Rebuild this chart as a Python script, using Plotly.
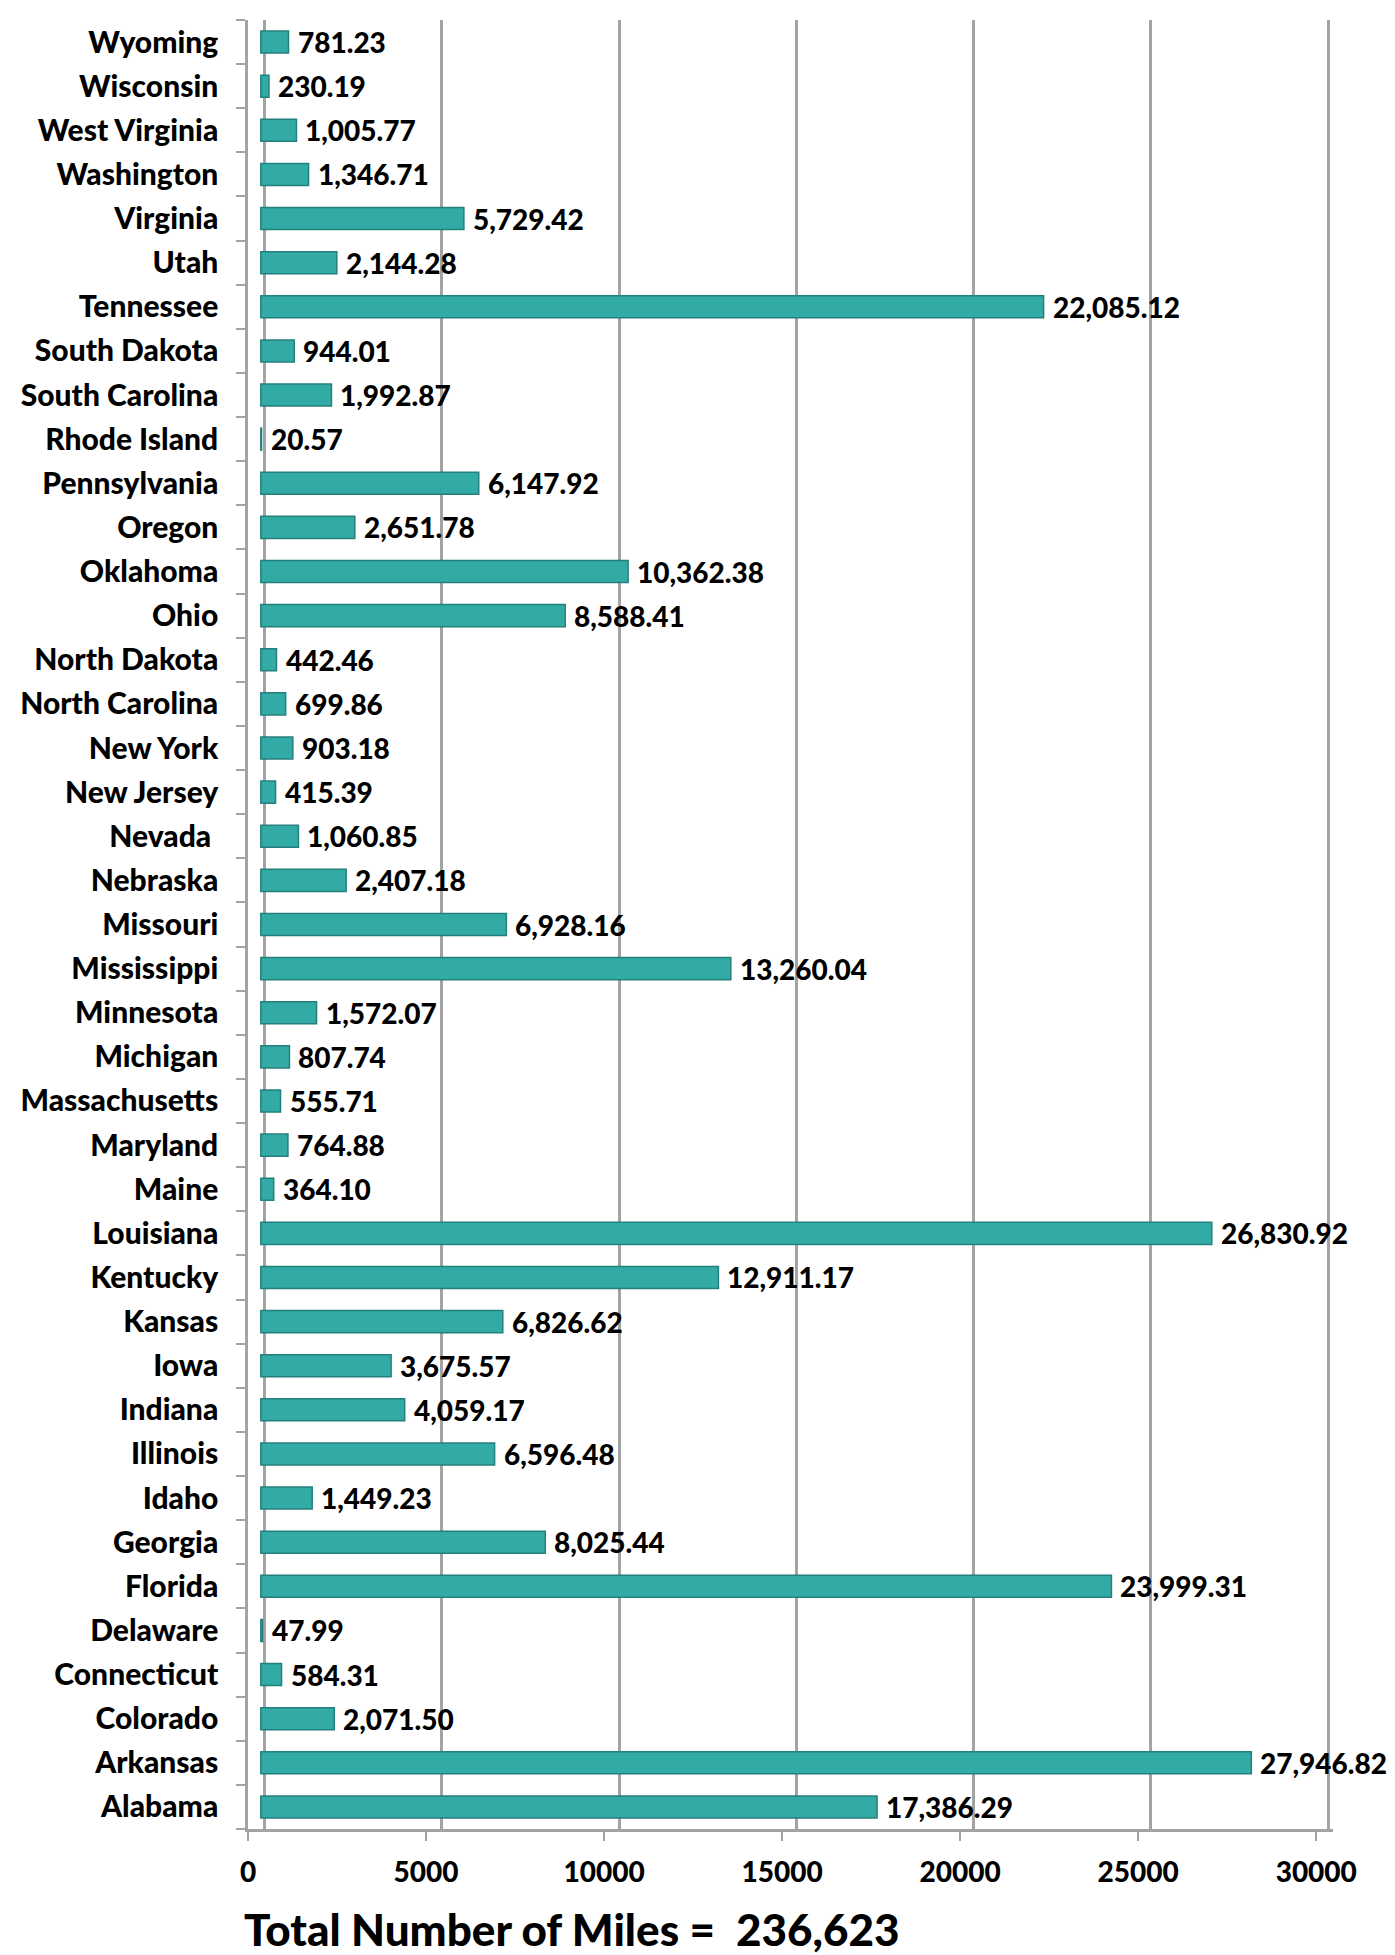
import plotly.graph_objects as go

states = ["Alabama", "Arkansas", "Colorado", "Connecticut", "Delaware", "Florida",
          "Georgia", "Idaho", "Illinois", "Indiana", "Iowa", "Kansas", "Kentucky",
          "Louisiana", "Maine", "Maryland", "Massachusetts", "Michigan", "Minnesota",
          "Mississippi", "Missouri", "Nebraska", "Nevada\u00a0", "New Jersey", "New York",
          "North Carolina", "North Dakota", "Ohio", "Oklahoma", "Oregon", "Pennsylvania",
          "Rhode Island", "South Carolina", "South Dakota", "Tennessee", "Utah",
          "Virginia", "Washington", "West Virginia", "Wisconsin", "Wyoming"]
miles = [17386.29, 27946.82, 2071.50, 584.31, 47.99, 23999.31,
         8025.44, 1449.23, 6596.48, 4059.17, 3675.57, 6826.62, 12911.17,
         26830.92, 364.10, 764.88, 555.71, 807.74, 1572.07,
         13260.04, 6928.16, 2407.18, 1060.85, 415.39, 903.18,
         699.86, 442.46, 8588.41, 10362.38, 2651.78, 6147.92,
         20.57, 1992.87, 944.01, 22085.12, 2144.28,
         5729.42, 1346.71, 1005.77, 230.19, 781.23]
x_ticks = [0, 5000, 10000, 15000, 20000, 25000, 30000]
total_miles = "236,623"

FONT = "Lato"
WEIGHT = 900
GRID = "#A3A3A3"
# page body has an 8px margin; size the figure to fit the window
OFF = 8
W, H = 1395 - OFF, 1955 - OFF
# plot area in page pixels
PX_L, PX_R, PX_T, PX_B = 233, 1333, 20, 1829
ML = PX_L - OFF
MT = PX_T - OFF
MR = W - (PX_R - OFF)
MB = H - (PX_B - OFF)
PW = PX_R - PX_L
VMAX = 30000


def axis_range(px0, px_max):
    """range so that value 0 lands at page px0 and VMAX at page px_max (3D depth planes)."""
    upp = VMAX / (px_max - px0)
    return [-(px0 - PX_L) * upp, VMAX + (PX_R - px_max) * upp]


fig = go.Figure()
fig.add_trace(go.Bar(
    x=miles, y=states, orientation="h", xaxis="x", yaxis="y",
    marker=dict(color="#32ABA6", line=dict(color="#24807C", width=1.5)),
    hoverinfo="x+y",
))

for s, v in zip(states, miles):
    fig.add_annotation(
        x=v, y=s, xref="x", yref="y",
        text=f"{v:,.2f}", showarrow=False,
        xanchor="left", yanchor="middle", xshift=7,
        font=dict(family=FONT, size=28, color="#000000", weight=WEIGHT),
    )

plot_h = PX_B - PX_T
title_cx = (234 + 888) / 2
title_cy = 1929
fig.add_annotation(
    x=(title_cx - PX_L) / PW, xref="paper",
    y=(PX_B - title_cy) / plot_h, yref="paper",
    text=f"Total Number of Miles =  {total_miles}", showarrow=False,
    font=dict(family=FONT, size=44, color="#000000", weight=WEIGHT),
    xanchor="center", yanchor="middle",
)

fig.update_layout(
    width=W, height=H,
    margin=dict(l=ML, r=MR, t=MT, b=MB, pad=0),
    paper_bgcolor="white", plot_bgcolor="white",
    showlegend=False,
    bargap=0.5,
    font=dict(family=FONT, color="#000000"),
    # bars: middle depth plane
    xaxis=dict(
        range=axis_range(246, 1324), visible=False, fixedrange=True,
    ),
    # back wall gridlines
    xaxis2=dict(
        overlaying="x", anchor="y", side="bottom",
        range=axis_range(250, 1328), tickvals=x_ticks,
        showgrid=True, gridcolor=GRID, gridwidth=2.5,
        showticklabels=False, ticks="", showline=False, zeroline=False,
        fixedrange=True,
    ),
    # front floor edge: ticks and labels
    xaxis3=dict(
        overlaying="x", anchor="y", side="bottom",
        range=axis_range(233, 1316), tickvals=x_ticks,
        ticktext=[str(t) for t in x_ticks],
        showgrid=False, zeroline=False,
        showline=True, linecolor=GRID, linewidth=2.5,
        ticks="outside", ticklen=9, tickcolor=GRID, tickwidth=2,
        tickfont=dict(family=FONT, size=28, color="#000000", weight=WEIGHT),
        ticklabelstandoff=8, fixedrange=True,
    ),
    yaxis=dict(
        categoryorder="array", categoryarray=states,
        showgrid=False, showline=True, linecolor=GRID, linewidth=2.5,
        ticks="outside", ticklen=9, tickcolor=GRID, tickwidth=2,
        tickson="boundaries",
        tickfont=dict(family=FONT, size=30, color="#000000", weight=WEIGHT),
        ticklabelstandoff=21,
        range=[-0.5, len(states) - 0.5], fixedrange=True,
    ),
)
# keep an invisible trace on the overlay axes so they render
fig.add_trace(go.Scatter(x=[0], y=[states[0]], xaxis="x2", yaxis="y",
                         mode="markers", marker=dict(opacity=0), hoverinfo="skip"))
fig.add_trace(go.Scatter(x=[0], y=[states[0]], xaxis="x3", yaxis="y",
                         mode="markers", marker=dict(opacity=0), hoverinfo="skip"))

fig.write_html("out.html")
